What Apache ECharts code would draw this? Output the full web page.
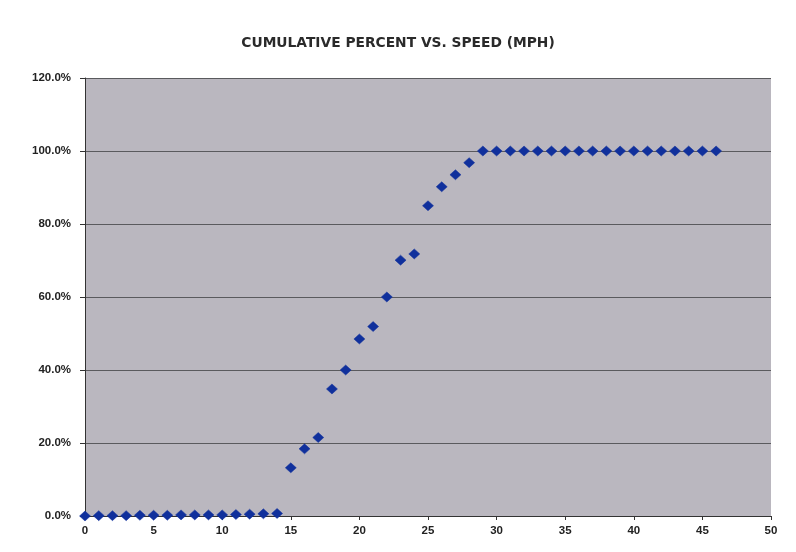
<!DOCTYPE html>
<html>
<head>
<meta charset="utf-8">
<script src="https://cdn.jsdelivr.net/npm/echarts@6/dist/echarts.min.js"></script>
<style>
html,body{margin:0;padding:0;background:#fff;}
#chart{width:796px;height:552px;}
</style>
</head>
<body>
<div id="chart"></div>
<script>
const titleText = 'CUMULATIVE PERCENT VS. SPEED (MPH)';
const speeds = [0,1,2,3,4,5,6,7,8,9,10,11,12,13,14,15,16,17,18,19,20,21,22,23,24,25,26,27,28,29,30,31,32,33,34,35,36,37,38,39,40,41,42,43,44,45,46];
const cumulativePercent = [0,0.1,0.1,0.1,0.2,0.2,0.2,0.3,0.3,0.3,0.3,0.4,0.5,0.6,0.7,13.2,18.4,21.5,34.8,40.0,48.5,51.9,60.0,70.1,71.8,85.0,90.2,93.5,96.8,100,100,100,100,100,100,100,100,100,100,100,100,100,100,100,100,100,100];
const xTicks = {min:0, max:50, interval:5};
const yTicks = {min:0, max:120, interval:20};

const points = speeds.map((s,i)=>[s, cumulativePercent[i]]);

const chart = echarts.init(document.getElementById('chart'), null, {renderer:'canvas'});
chart.setOption({
  backgroundColor:'#ffffff',
  animation:false,
  title:{
    text:titleText,
    left:'center',
    top:31,
    textStyle:{fontFamily:'DejaVu Sans, sans-serif',fontWeight:'bold',fontSize:13.8,color:'#2a2a2a'}
  },
  grid:{
    left:85,right:25,top:78,bottom:36,
    show:true,backgroundColor:'#bab7bf',borderWidth:0
  },
  xAxis:{
    type:'value',min:xTicks.min,max:xTicks.max,interval:xTicks.interval,
    axisLine:{show:true,lineStyle:{color:'#333',width:1}},
    axisTick:{show:true,length:4,lineStyle:{color:'#333'}},
    splitLine:{show:false},
    axisLabel:{color:'#222',fontFamily:'Liberation Sans, Arial, sans-serif',fontWeight:'bold',fontSize:11.5,margin:9}
  },
  yAxis:{
    type:'value',min:yTicks.min,max:yTicks.max,interval:yTicks.interval,
    axisLine:{show:true,lineStyle:{color:'#333',width:1}},
    axisTick:{show:true,length:5,lineStyle:{color:'#333'}},
    splitLine:{show:true,lineStyle:{color:'#5a5a5e',width:1}},
    axisLabel:{color:'#222',fontFamily:'Liberation Sans, Arial, sans-serif',fontWeight:'bold',fontSize:11.5,margin:14,
      formatter:v=>v.toFixed(1)+'%'}
  },
  series:[{
    type:'scatter',
    data:points,
    symbol:'diamond',
    symbolSize:[11,10],
    itemStyle:{color:'#10309c',borderColor:'#10309c',borderWidth:0.5,opacity:1}
  }]
});
</script>
</body>
</html>
